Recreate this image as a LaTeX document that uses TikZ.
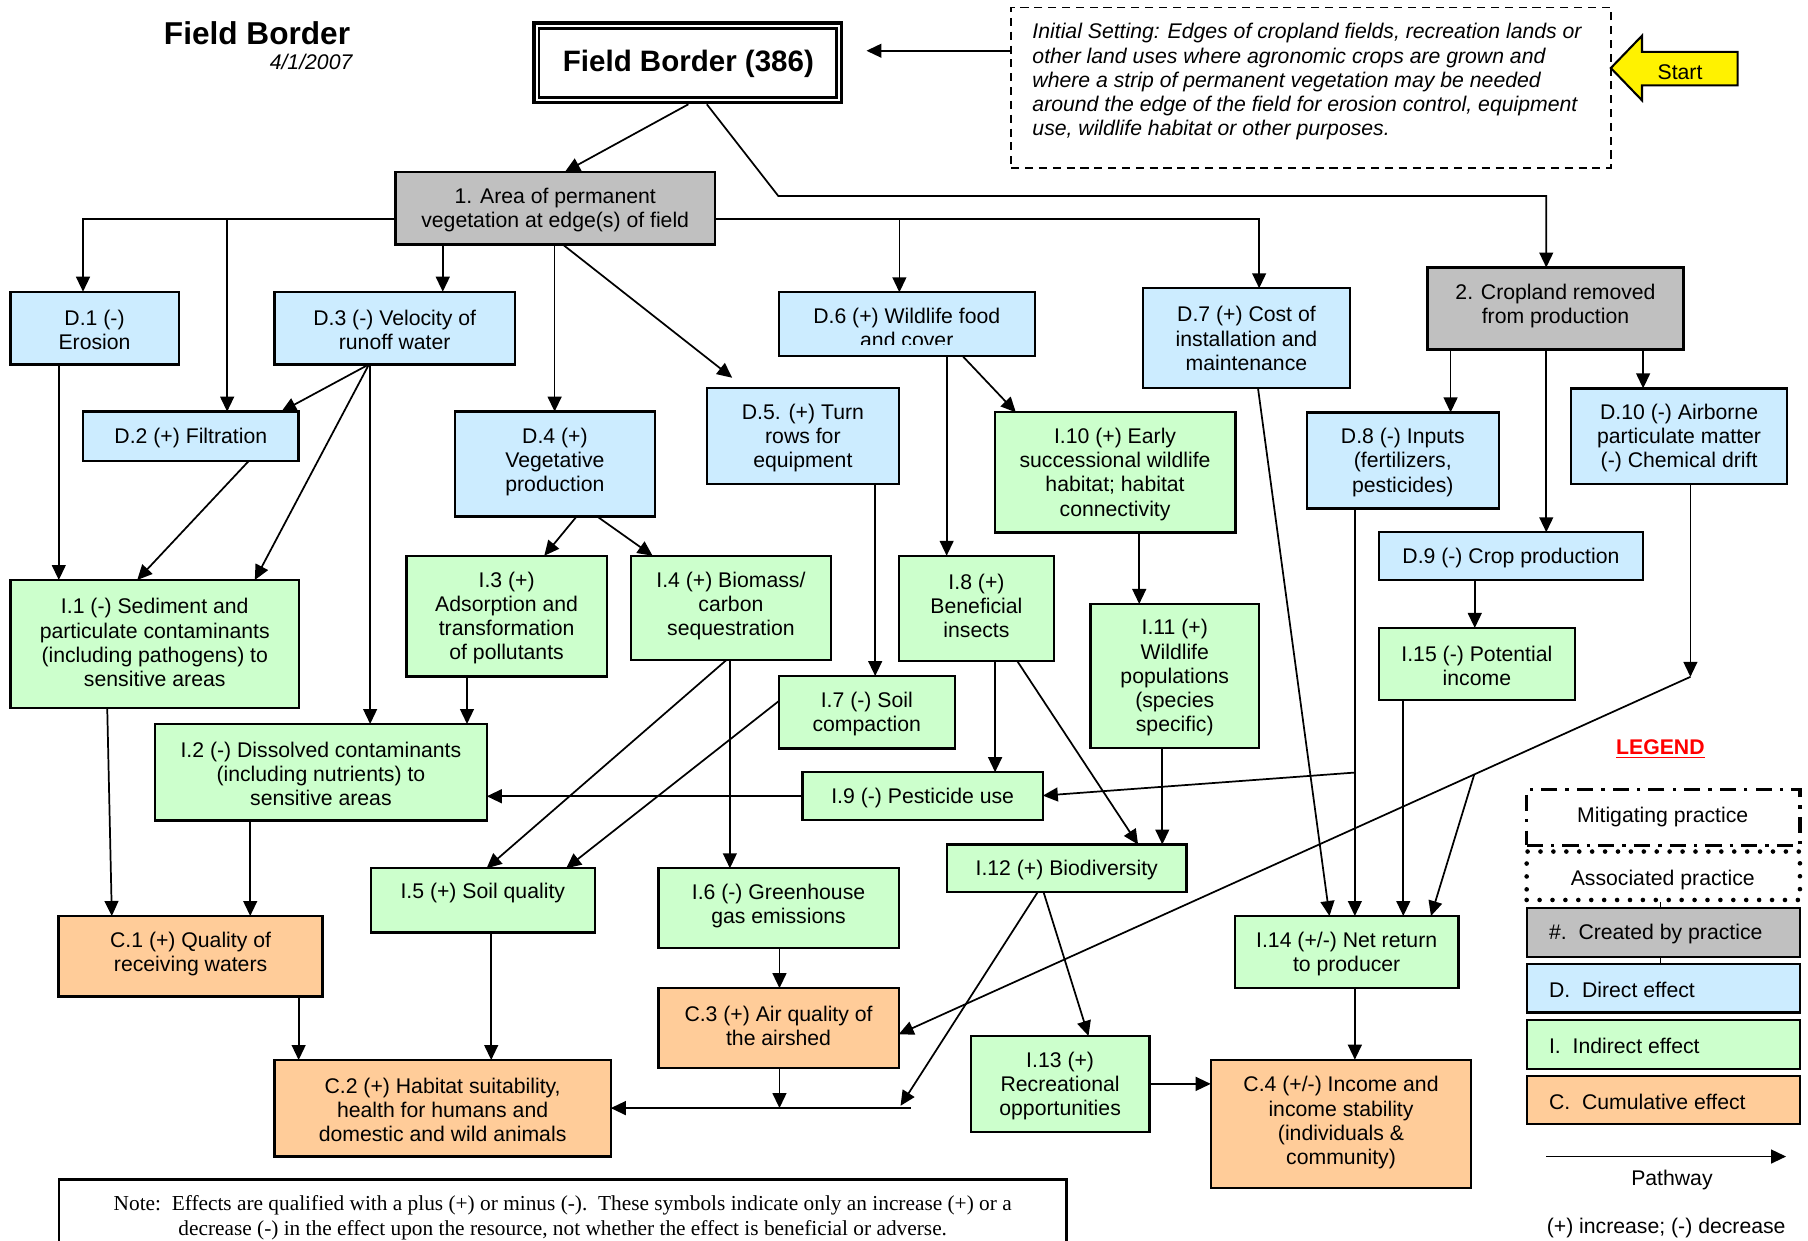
\documentclass[tikz,border=0pt]{standalone}
\usepackage{fontspec}
\setmainfont{Liberation Sans}
\newfontfamily\notefont{Liberation Serif}
\usetikzlibrary{arrows.meta,calc}
\definecolor{cgray}{HTML}{C0C0C0}
\definecolor{cblue}{HTML}{CCECFF}
\definecolor{cgreen}{HTML}{CCFFCC}
\definecolor{corange}{HTML}{FFCC99}
\newcommand\fs{\fontsize{9.2}{10.5}\selectfont}
% name, x1, y1, x2, y2, fill, vertical text shift, text
\newcommand\bx[8]{%
  \pgfmathsetmacro\bxw{(#4-#2)*0.5}%
  \pgfmathsetmacro\bxh{(#5-#3)*0.5}%
  \pgfmathsetmacro\bxx{(#2+#4)/2}%
  \pgfmathsetmacro\bxy{(#3+#5)/2}%
  \node[bx, fill=#6, minimum width=\bxw pt, minimum height=\bxh pt] (#1) at (\bxx,\bxy) {};
  \node[tx] (#1t) at ([yshift=#7-0.8pt]#1.center) {#8};
}
\begin{document}
\begin{tikzpicture}[x=0.5pt,y=-0.5pt,
  bx/.style={draw, line width=1pt, inner sep=0pt, outer sep=0pt},
  tx/.style={font=\fs, align=center, inner sep=0pt},
  ar/.style={-{Triangle[length=6.5pt,width=6pt]}, line width=0.75pt},
  ln/.style={line width=0.75pt},
  lg/.style={draw, line width=1pt, minimum width=118.5pt, minimum height=21pt, inner sep=0pt}]
\clip (0,0) rectangle (1568,1076);
\fill[white] (0,0) rectangle (1568,1076);

% title
\node[anchor=base east, inner sep=0pt, font=\fontsize{13.7}{16}\selectfont\bfseries] (title) at (304,39) {Field Border};
\node[anchor=base east, inner sep=0pt, font=\fs\itshape] (date) at (306,60) {4/1/2007};

% field border box
\node[draw, line width=1.45pt, minimum width=133.5pt, minimum height=34.5pt, inner sep=0pt] (fb) at (596.5,54.5) {};
\draw[line width=1.15pt] ([shift={(3pt,-3pt)}]fb.north west) rectangle ([shift={(-3pt,3pt)}]fb.south east);
\node[anchor=base, inner sep=0pt, font=\fontsize{12.8}{15}\selectfont\bfseries] (fbt) at (597,61.7) {Field Border (386)};

% initial setting
\node[draw, line width=0.7pt, dash pattern=on 3.5pt off 2.5pt, minimum width=260pt, minimum height=69.5pt, inner sep=0pt] (ini) at (1137,76) {};
\node[anchor=north west, align=left, inner sep=0pt, font=\fs\itshape] (init) at (895,20) {Initial Setting: Edges of cropland fields, recreation lands or\\other land uses where agronomic crops are grown and\\where a strip of permanent vegetation may be needed\\around the edge of the field for erosion control, equipment\\use, wildlife habitat or other purposes.};

% start arrow
\draw[fill=yellow, line width=0.9pt] (1397,59) -- (1424,31) -- (1424,45) -- (1507,45) -- (1507,74) -- (1424,74) -- (1424,87) -- cycle;
\node[font=\fs, inner sep=0pt] (start) at (1457,62.5) {Start};

% boxes
\bx{a1}{343}{149}{620}{212}{cgray}{0pt}{1. Area of permanent\\vegetation at edge(s) of field}
\bx{a2}{1238}{232}{1460}{303}{cgray}{2pt}{2. Cropland removed\\from production}
\bx{d1}{9}{253}{155}{316}{cblue}{0pt}{D.1 (-)\\Erosion}
\bx{d2}{72}{357}{259}{399.5}{cblue}{0pt}{D.2 (+) Filtration}
\bx{d3}{238}{253}{446.6}{316}{cblue}{0pt}{D.3 (-) Velocity of\\runoff water}
\bx{d4}{394.5}{357}{568}{448}{cblue}{1.6pt}{D.4 (+)\\Vegetative\\production}
\bx{d5}{613}{336.6}{779.6}{420}{cblue}{0pt}{D.5. (+) Turn\\rows for\\equipment}
\bx{d6}{675.4}{253.5}{897.4}{309}{cblue}{0pt}{}
\begin{scope}
\clip (d6.north west) rectangle (d6.east |- 0,298.5);
\node[tx] (d6text) at ([yshift=-1.5pt]d6.center) {D.6 (+) Wildlife food\\and cover};
\end{scope}
\bx{d7}{991}{250}{1171}{336.7}{cblue}{0.7pt}{D.7 (+) Cost of\\installation and\\maintenance}
\bx{d8}{1133.5}{357.7}{1299.7}{441}{cblue}{0pt}{D.8 (-) Inputs\\(fertilizers,\\pesticides)}
\bx{d9}{1195.7}{461.6}{1425}{503}{cblue}{0pt}{D.9 (-) Crop production}
\bx{d10}{1362.6}{336.8}{1549.8}{419.8}{cblue}{0pt}{D.10 (-) Airborne\\particulate matter\\(-) Chemical drift}
\bx{i1}{9}{503}{259.4}{614}{cgreen}{1.4pt}{I.1 (-) Sediment and\\particulate contaminants\\(including pathogens) to\\sensitive areas}
\bx{i2}{134.4}{627.9}{422.2}{711.7}{cgreen}{0pt}{I.2 (-) Dissolved contaminants\\(including nutrients) to\\sensitive areas}
\bx{i3}{352.5}{482}{526.2}{586.8}{cgreen}{0pt}{I.3 (+)\\Adsorption and\\transformation\\of pollutants}
\bx{i4}{547}{482}{720.8}{572.4}{cgreen}{1.5pt}{I.4 (+) Biomass/\\carbon\\sequestration}
\bx{i5}{321.6}{753}{515.8}{808.8}{cgreen}{3.9pt}{I.5 (+) Soil quality}
\bx{i6}{571}{753}{779.4}{822.4}{cgreen}{1.8pt}{I.6 (-) Greenhouse\\gas emissions}
\bx{i7}{675.4}{586.3}{828}{649}{cgreen}{0pt}{I.7 (-) Soil\\compaction}
\bx{i8}{779.7}{482}{914}{573}{cgreen}{1.8pt}{I.8 (+)\\Beneficial\\insects}
\bx{i9}{696}{669.7}{904.4}{711.4}{cgreen}{0pt}{I.9 (-) Pesticide use}
\bx{i10}{862.7}{357.6}{1071.4}{461.7}{cgreen}{0pt}{I.10 (+) Early\\successional wildlife\\habitat; habitat\\connectivity}
\bx{i11}{945.8}{523.8}{1091.8}{648.7}{cgreen}{0pt}{I.11 (+)\\Wildlife\\populations\\(species\\specific)}
\bx{i12}{821.2}{732.4}{1029}{773.6}{cgreen}{0pt}{I.12 (+) Biodiversity}
\bx{i13}{841.8}{898.4}{997}{981.7}{cgreen}{0pt}{I.13 (+)\\Recreational\\opportunities}
\bx{i14}{1070.8}{794.4}{1265}{857}{cgreen}{0pt}{I.14 (+/-) Net return\\to producer}
\bx{i15}{1195.7}{544.6}{1366}{607}{cgreen}{0pt}{I.15 (-) Potential\\income}
\bx{c1}{50.8}{794.4}{279.8}{864.3}{corange}{1.9pt}{C.1 (+) Quality of\\receiving waters}
\bx{c2}{238}{919.3}{529.7}{1003}{corange}{0pt}{C.2 (+) Habitat suitability,\\health for humans and\\domestic and wild animals}
\bx{c3}{571}{857}{779.4}{926}{corange}{1.6pt}{C.3 (+) Air quality of\\the airshed}
\bx{c4}{1050}{919}{1276}{1030}{corange}{1.2pt}{C.4 (+/-) Income and\\income stability\\(individuals \&\\community)}

% connectors from top
\draw[ar] (ini.west |- 0,44) -- ($(fb.east |- 0,44)+(20,0)$);
\draw[ar] (fb.south -| 597,0) -- (a1.north -| 490,0);
\draw[ar] (fb.south -| 613,0) -- (675,170) -- (1341,170) -- (a2.north -| 1341,0);
\draw[ar] (a1.west |- 0,190) -- (72,190) -- (d1.north -| 72,0);
\draw[ar] (197,190) -- (d2.north -| 197,0);
\draw[ar] (a1.east |- 0,190) -- (1092,190) -- (d7.north -| 1092,0);
\draw[ar] (780,190) -- (d6.north -| 780,0);
\draw[ar] (a1.south -| 384,0) -- (d3.north -| 384,0);
\draw[ar] (a1.south -| 481,0) -- (d4.north -| 481,0);
\draw[ar] (a1.south -| 488,0) -- ($(d5.north -| 635,0)+(0,-9)$);

% direct effects
\draw[ar] (d1.south -| 51,0) -- (i1.north -| 51,0);
\draw[ar] (d2.south -| 216,0) -- (i1.north -| 119,0);
\draw[ar] (d3.south -| 320,0) -- (d2.north -| 244,0);
\draw[ar] (d3.south -| 320,0) -- (i1.north -| 221,0);
\draw[ar] (d3.south -| 321,0) -- (i2.north -| 321,0);
\draw[ar] (d4.south -| 500,0) -- (i3.north -| 472,0);
\draw[ar] (d4.south -| 518,0) -- (i4.north -| 566,0);
\draw[ar] (i3.south -| 405,0) -- (i2.north -| 405,0);
\draw[ar] (d5.south -| 759,0) -- (i7.north -| 759,0);
\draw[ar] (d6.south -| 821,0) -- (i8.north -| 821,0);
\draw[ar] (d6.south -| 835,0) -- (i10.north -| 881,0);
\draw[ar] (i10.south -| 988,0) -- (i11.north -| 988,0);
\draw[ar] (d7.south -| 1091,0) -- (i14.north -| 1153,0);
\draw[ar] (a2.south -| 1258,0) -- (d8.north -| 1258,0);
\draw[ar] (a2.south -| 1341,0) -- (d9.north -| 1341,0);
\draw[ar] (a2.south -| 1425,0) -- (d10.north -| 1425,0);
\draw[ar] (d8.south -| 1175,0) -- (i14.north -| 1175,0);
\draw[ar] (1175,670) -- (i9.east |- 0,690);
\draw[ar] (d9.south -| 1279,0) -- (i15.north -| 1279,0);
\draw[ar] (i15.south -| 1217,0) -- (i14.north -| 1217,0);
\coordinate (p10) at (1466,587);
\draw[ar] (d10.south -| 1466,0) -- (p10);
\draw[ar] (p10) -- (c3.east |- 0,897);
\draw[ar] ($(p10)!0.273!(c3.east |- 0,897)$) -- (i14.north -| 1241,0);

% indirect effects
\draw[ar] (i8.south -| 863,0) -- (i9.north -| 863,0);
\draw[ar] (i8.south -| 882,0) -- (i12.north -| 987,0);
\draw[ar] (i11.south -| 1008,0) -- (i12.north -| 1008,0);
\draw[ar] (i9.west) -- (i2.east |- i9.west);
\draw[ar] (i4.south -| 633,0) -- (i6.north -| 633,0);
\draw[ar] (i4.south -| 630,0) -- (i5.north -| 422,0);
\draw[ar] (i7.west |- 0,608) -- (i5.north -| 491,0);
\draw[ar] (i1.south -| 93,0) -- (c1.north -| 97,0);
\draw[ar] (i2.south -| 217,0) -- (c1.north -| 217,0);
\draw[ar] (c1.south -| 259,0) -- (c2.north -| 259,0);
\draw[ar] (i5.south -| 426,0) -- (c2.north -| 426,0);
\draw[ar] (i6.south -| 676,0) -- (c3.north -| 676,0);
\coordinate (hl) at (790,961);
\draw[ar] (hl) -- (c2.east |- hl);
\draw[ar] (c3.south -| 676,0) -- (676,961);
\draw[ar] (i12.south -| 900,0) -- (781,959);
\draw[ar] (i12.south -| 905,0) -- (i13.north -| 944,0);
\draw[ar] (i13.east |- 0,940) -- (c4.west |- 0,940);
\draw[ar] (i14.south -| 1175,0) -- (c4.north -| 1175,0);

% note
\node[bx, minimum width=437pt, minimum height=40pt] (note) at (488,1063) {};
\node[anchor=north, align=center, inner sep=0pt, font=\notefont\fontsize{9.25}{10.9}\selectfont] (notet) at (488,1036) {Note:\ \ Effects are qualified with a plus (+) or minus (-).\ \ These symbols indicate only an increase (+) or a\\decrease (-) in the effect upon the resource, not whether the effect is beneficial or adverse.};

% legend
\node[anchor=base, inner sep=0pt, font=\fs\bfseries, text=red] (legt) at (1440,654) {\underline{LEGEND}};
\node[lg, line width=1.5pt, dash pattern=on 7pt off 3.5pt on 1.5pt off 3.5pt, minimum height=24.25pt] (lm) at (1442.5,709) {};
\node[tx] (lmt) at (1442,708.5) {Mitigating practice};
\node[lg, line width=2pt, line cap=round, dash pattern=on 0pt off 5.6pt] (la) at (1442.5,759.5) {};
\node[tx] (lat) at (1442,763.5) {Associated practice};
\node[lg, fill=cgray] (lc) at (1442.5,808.7) {};
\node[tx, anchor=west] (lct) at (1343,810.3) {\#.\ \ Created by practice};
\node[lg, fill=cblue] (ld) at (1442.5,857.2) {};
\node[tx, anchor=west] (ldt) at (1343,858.8) {D.\ \ Direct effect};
\node[lg, fill=cgreen] (li) at (1442.5,905.8) {};
\node[tx, anchor=west] (lit) at (1343,907.4) {I.\ \ Indirect effect};
\node[lg, fill=corange] (lo) at (1442.5,953.9) {};
\node[tx, anchor=west] (lot) at (1343,955.5) {C.\ \ Cumulative effect};
\draw[ln] (la.south -| 1440,0) -- (lc.north -| 1440,0);
\draw[ln] (lc.south -| 1440,0) -- (ld.north -| 1440,0);
\coordinate (pw0) at (1341,1003);
\coordinate (pw1) at (1549,1003);
\draw[ar] (pw0) -- (pw1);
\node[tx] (pwt) at (1450,1023.6) {Pathway};
\node[tx] (inct) at (1445,1064.8) {(+) increase; (-) decrease};
\end{tikzpicture}
\end{document}
